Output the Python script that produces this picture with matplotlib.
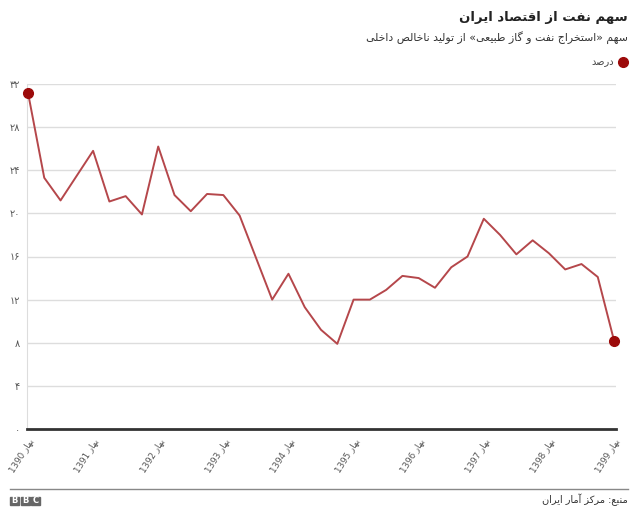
import numpy as np
import matplotlib
matplotlib.use('Agg')
from matplotlib import pyplot as plt
from matplotlib.patches import Rectangle
import matplotlib.transforms as mtransforms
import re

# quarterly share of oil & gas extraction in GDP (percent), spring 1390 .. spring 1399
oil_share = [31.2, 23.3, 21.2, 23.5, 25.8, 21.1, 21.6, 19.9, 26.2, 21.7,
             20.2, 21.8, 21.7, 19.8, 15.9, 12.0, 14.4, 11.3, 9.2, 7.9,
             12.0, 12.0, 12.9, 14.2, 14.0, 13.1, 15.0, 16.0, 19.5, 18.0,
             16.2, 17.5, 16.3, 14.8, 15.3, 14.1, 8.2]
years = ['1390', '1391', '1392', '1393', '1394', '1395', '1396', '1397', '1398', '1399']
season = 'بهار'
y_ticks = [0, 4, 8, 12, 16, 20, 24, 28, 32]

title = 'سهم نفت از اقتصاد ایران'
subtitle = 'سهم «استخراج نفت و گاز طبیعی» از تولید ناخالص داخلی'
legend_label = 'درصد'
source = 'منبع: مرکز آمار ایران'

# arabic presentation forms: (isolated, final, initial, medial) or (isolated, final)
FORMS = {
    'ب': (0xFE8F, 0xFE90, 0xFE91, 0xFE92), 'پ': (0xFB56, 0xFB57, 0xFB58, 0xFB59),
    'ت': (0xFE95, 0xFE96, 0xFE97, 0xFE98), 'ث': (0xFE99, 0xFE9A, 0xFE9B, 0xFE9C),
    'ج': (0xFE9D, 0xFE9E, 0xFE9F, 0xFEA0), 'چ': (0xFB7A, 0xFB7B, 0xFB7C, 0xFB7D),
    'ح': (0xFEA1, 0xFEA2, 0xFEA3, 0xFEA4), 'خ': (0xFEA5, 0xFEA6, 0xFEA7, 0xFEA8),
    'س': (0xFEB1, 0xFEB2, 0xFEB3, 0xFEB4), 'ش': (0xFEB5, 0xFEB6, 0xFEB7, 0xFEB8),
    'ص': (0xFEB9, 0xFEBA, 0xFEBB, 0xFEBC), 'ض': (0xFEBD, 0xFEBE, 0xFEBF, 0xFEC0),
    'ط': (0xFEC1, 0xFEC2, 0xFEC3, 0xFEC4), 'ظ': (0xFEC5, 0xFEC6, 0xFEC7, 0xFEC8),
    'ع': (0xFEC9, 0xFECA, 0xFECB, 0xFECC), 'غ': (0xFECD, 0xFECE, 0xFECF, 0xFED0),
    'ف': (0xFED1, 0xFED2, 0xFED3, 0xFED4), 'ق': (0xFED5, 0xFED6, 0xFED7, 0xFED8),
    'ک': (0xFB8E, 0xFB8F, 0xFB90, 0xFB91), 'گ': (0xFB92, 0xFB93, 0xFB94, 0xFB95),
    'ل': (0xFEDD, 0xFEDE, 0xFEDF, 0xFEE0), 'م': (0xFEE1, 0xFEE2, 0xFEE3, 0xFEE4),
    'ن': (0xFEE5, 0xFEE6, 0xFEE7, 0xFEE8), 'ه': (0xFEE9, 0xFEEA, 0xFEEB, 0xFEEC),
    'ی': (0xFBFC, 0xFBFD, 0xFBFE, 0xFBFF),
    'ا': (0xFE8D, 0xFE8E), 'آ': (0xFE81, 0xFE82), 'د': (0xFEA9, 0xFEAA),
    'ذ': (0xFEAB, 0xFEAC), 'ر': (0xFEAD, 0xFEAE), 'ز': (0xFEAF, 0xFEB0),
    'ژ': (0xFB8A, 0xFB8B), 'و': (0xFEED, 0xFEEE),
}


def rtl(text):
    # shape letters in logical order, then lay out right to left
    out = []
    for i, c in enumerate(text):
        if c not in FORMS:
            out.append(c)
            continue
        forms = FORMS[c]
        prev = text[i - 1] if i > 0 else ''
        nxt = text[i + 1] if i + 1 < len(text) else ''
        join_prev = prev in FORMS and len(FORMS[prev]) == 4
        join_next = len(forms) == 4 and nxt in FORMS
        if join_prev and join_next:
            out.append(chr(forms[3]))
        elif join_prev:
            out.append(chr(forms[1]))
        elif join_next:
            out.append(chr(forms[2]))
        else:
            out.append(chr(forms[0]))
    s = ''.join(out)[::-1]
    s = s.translate(str.maketrans('«»', '»«'))
    s = re.sub(r'[0-9\u06F0-\u06F9]+', lambda m: m.group(0)[::-1], s)
    return s


def fa_digits(n):
    return str(n).translate(str.maketrans('0123456789', '۰۱۲۳۴۵۶۷۸۹'))


plt.rcParams['font.family'] = ['DejaVu Sans']

W, H = 640, 519
fig = plt.figure(figsize=(W / 100, H / 100), dpi=100)
ax = fig.add_axes([27 / W, 1 - 429 / H, (616 - 27) / W, (429 - 84) / H])

x = np.arange(len(oil_share))
line_color = '#b5474b'
ax.plot(x, oil_share, color=line_color, lw=1.4, zorder=3)
ax.plot([x[0], x[-1]], [oil_share[0], oil_share[-1]], 'o', color='#9c0a0a',
        markersize=7, zorder=4, clip_on=False)

ax.set_xlim(-0.06, 36.12)
ax.set_ylim(0, 32)
ax.set_yticks(y_ticks)
ax.set_yticklabels([fa_digits(v) for v in y_ticks], fontsize=7, color='#555555')
ax.grid(axis='y', color='#dddddd', lw=1)
ax.set_axisbelow(True)

tick_pos = np.arange(0, len(oil_share), 4)
ax.set_xticks(tick_pos)
ax.set_xticklabels([rtl(season + ' ' + y) for y in years], rotation=58,
                   ha='right', va='top', rotation_mode='anchor',
                   fontsize=6.3, color='#555555')
offset = mtransforms.ScaledTranslation(9 / 100, -8 / 100, fig.dpi_scale_trans)
for lab in ax.get_xticklabels():
    lab.set_transform(lab.get_transform() + offset)

ax.tick_params(axis='both', length=0, pad=6)
ax.tick_params(axis='y', pad=5)
for side in ['top', 'right']:
    ax.spines[side].set_visible(False)
ax.spines['left'].set_color('#dddddd')
ax.spines['bottom'].set_color('#333333')
ax.spines['bottom'].set_linewidth(2)

# header
fig.text(628 / W, 1 - 17 / H, rtl(title), ha='right', va='center',
         fontsize=9.5, fontweight='bold', color='#222222')
fig.text(628 / W, 1 - 38 / H, rtl(subtitle), ha='right', va='center',
         fontsize=7.8, color='#333333')
fig.lines.append(plt.Line2D([623 / W], [1 - 62 / H], marker='o', color='#9c0a0a',
                            markersize=7, transform=fig.transFigure))
fig.text(614 / W, 1 - 62 / H, rtl(legend_label), ha='right', va='center',
         fontsize=7, color='#444444')

# footer
fig.lines.append(plt.Line2D([10 / W, 628 / W], [1 - 489 / H, 1 - 489 / H],
                            color='#888888', lw=1, transform=fig.transFigure))
for i, letter in enumerate('BBC'):
    x0 = 10 + i * 10.5
    fig.patches.append(Rectangle((x0 / W, 1 - 505 / H), 9 / W, 8.5 / H,
                                 color='#666666', transform=fig.transFigure))
    fig.text((x0 + 4.5) / W, 1 - 500.7 / H, letter, ha='center', va='center',
             fontsize=6, fontweight='bold', color='white')
fig.text(628 / W, 1 - 500 / H, rtl(source), ha='right', va='center',
         fontsize=7, color='#333333')

plt.savefig('out.png', dpi=100)
plt.close()
